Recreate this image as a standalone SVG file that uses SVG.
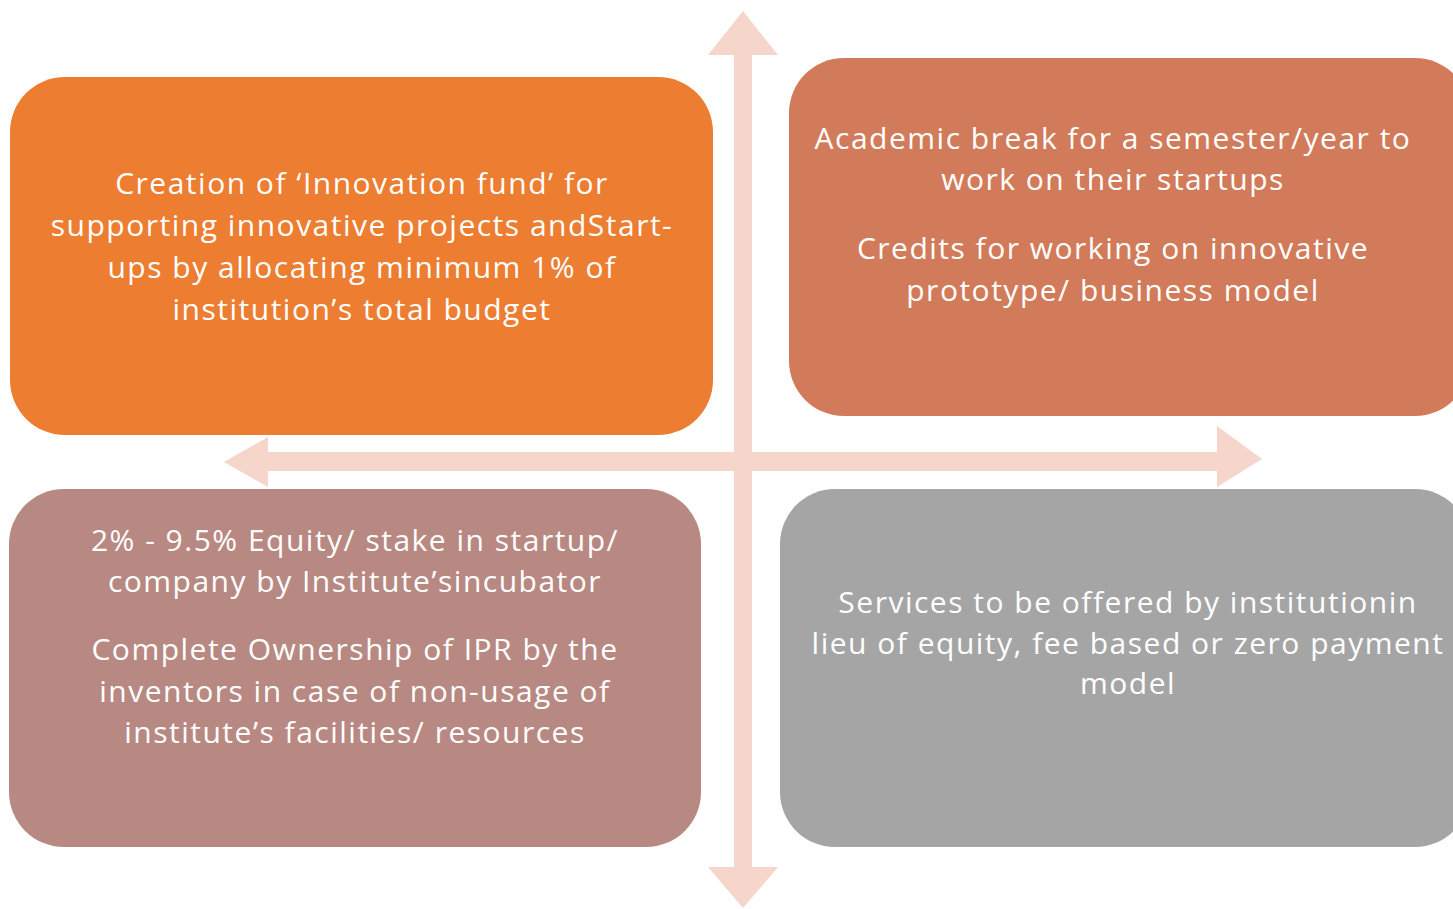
<svg xmlns="http://www.w3.org/2000/svg" width="1453" height="909" viewBox="0 0 1453 909">
<style>
.t{font-family:"Open Sans","Noto Sans","Liberation Sans",sans-serif;font-size:30px;letter-spacing:1.5px;fill:#ffffff;text-anchor:middle}
.arr{fill:#F6D5CB}
</style>
<rect width="1453" height="909" fill="#ffffff"/>
<g id="connectors">
<polygon class="arr" points="743,11 778,55 752,55 752,867 778,867 743,908 708,867 734,867 734,55 708,55"/>
<polygon class="arr" points="224,462 268,437 268,452 1217,452 1217,426 1262,459 1217,487 1217,471 268,471 268,487"/>
</g>
<g id="node1">
<rect x="10" y="77" width="703" height="358" rx="55" fill="#ED7D31"/>
<text class="t" x="362" y="194">Creation of ‘Innovation fund’ for</text>
<text class="t" x="362" y="236">supporting innovative projects andStart-</text>
<text class="t" x="362" y="278">ups by allocating minimum 1% of</text>
<text class="t" x="362" y="320">institution’s total budget</text>
</g>
<g id="node2">
<rect x="789" y="58" width="681" height="358" rx="55" fill="#D27B5A"/>
<text class="t" x="1113" y="149">Academic break for a semester/year to</text>
<text class="t" x="1113" y="190">work on their startups</text>
<text class="t" x="1113" y="259">Credits for working on innovative</text>
<text class="t" x="1113" y="301">prototype/ business model</text>
</g>
<g id="node3">
<rect x="9" y="489" width="692" height="358" rx="55" fill="#B88982"/>
<text class="t" x="355" y="551">2% - 9.5% Equity/ stake in startup/</text>
<text class="t" x="355" y="592">company by Institute’sincubator</text>
<text class="t" x="355" y="660">Complete Ownership of IPR by the</text>
<text class="t" x="355" y="702">inventors in case of non-usage of</text>
<text class="t" x="355" y="743">institute’s facilities/ resources</text>
</g>
<g id="node4">
<rect x="780" y="489" width="690" height="358" rx="55" fill="#A5A5A5"/>
<text class="t" x="1128" y="613">Services to be offered by institutionin</text>
<text class="t" x="1128" y="654">lieu of equity, fee based or zero payment</text>
<text class="t" x="1128" y="694">model</text>
</g>
</svg>
